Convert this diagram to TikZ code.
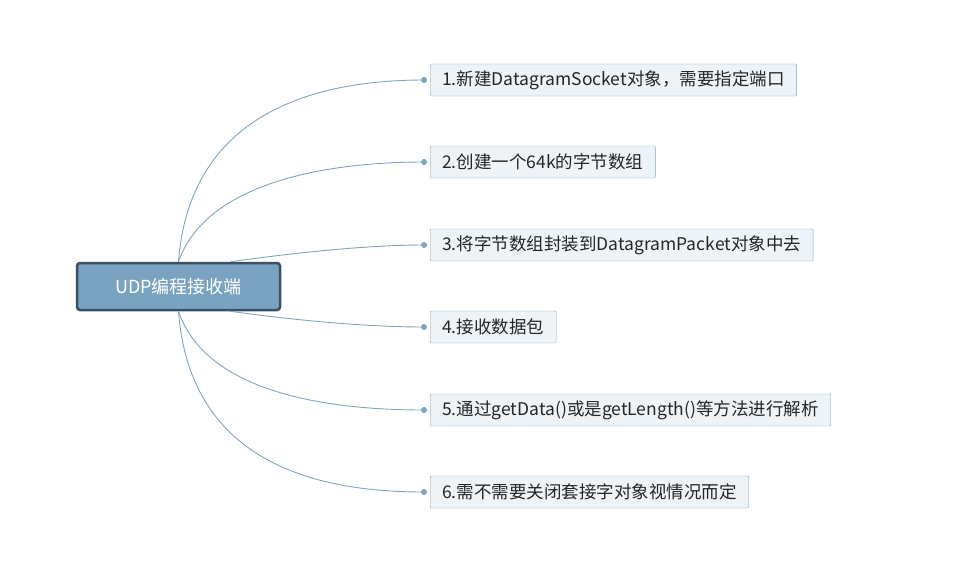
\documentclass[tikz,border=0pt]{standalone}
\usepackage{fontspec}
\setmainfont{Noto Sans CJK SC}
\usetikzlibrary{positioning,calc}
\definecolor{rootfill}{HTML}{7AA3C2}
\definecolor{rootline}{HTML}{3B5064}
\definecolor{leaffill}{HTML}{EEF3F7}
\definecolor{leafline}{HTML}{7FA6C0}
\tikzset{
  rootbox/.style={draw=rootline, line width=2.5pt, fill=rootfill, rounded corners=3pt,
    minimum width=203pt, minimum height=47pt, text=white, font=\fontsize{18}{20}\selectfont},
  leafbox/.style={draw=leafline, fill=leaffill, rounded corners=1pt, anchor=west,
    minimum height=32pt, inner xsep=12pt, text=black!85, font=\fontsize{17.5}{20}\selectfont},
  branch/.style={draw=leafline, line width=0.9pt},
  tipdot/.style={fill=leafline, circle, inner sep=0pt, minimum size=6pt}
}
\begin{document}
\begin{tikzpicture}[x=1pt,y=-1pt]
    \useasboundingbox (0,0) rectangle (973,560);
    % Root
    \node[rootbox] (root) at (178.5,286.5) {UDP编程接收端};
    \coordinate (rn) at ($(root.north)+(52,0)$);
    \coordinate (rs) at ($(root.south)+(52,0)$);

    % Leaves
    \node[leafbox] (s1) at (430,80) {1.新建DatagramSocket对象，需要指定端口};
    \node[leafbox] (s2) at (430,162) {2.创建一个64k的字节数组};
    \node[leafbox] (s3) at (430,245) {3.将字节数组封装到DatagramPacket对象中去};
    \node[leafbox] (s4) at (430,327) {4.接收数据包};
    \node[leafbox] (s5) at (430,410) {5.通过getData()或是getLength()等方法进行解析};
    \node[leafbox] (s6) at (430,492) {6.需不需要关闭套接字对象视情况而定};

    % Dots
    \foreach \i in {1,...,6}
        \node[tipdot] (d\i) at ($(s\i.west)+(-6,0)$) {};

    % Branches
    \draw[branch] (root.north) .. controls (190,110) and (320,80) .. (d1.center);
    \draw[branch] (root.north) .. controls (205,185) and (320,162) .. (d2.center);
    \draw[branch] (rn) .. controls (300,252) and (370,245) .. (d3.center);
    \draw[branch] (rs) .. controls (300,321) and (370,327) .. (d4.center);
    \draw[branch] (root.south) .. controls (205,390) and (320,410) .. (d5.center);
    \draw[branch] (root.south) .. controls (190,465) and (320,492) .. (d6.center);
\end{tikzpicture}
\end{document}
